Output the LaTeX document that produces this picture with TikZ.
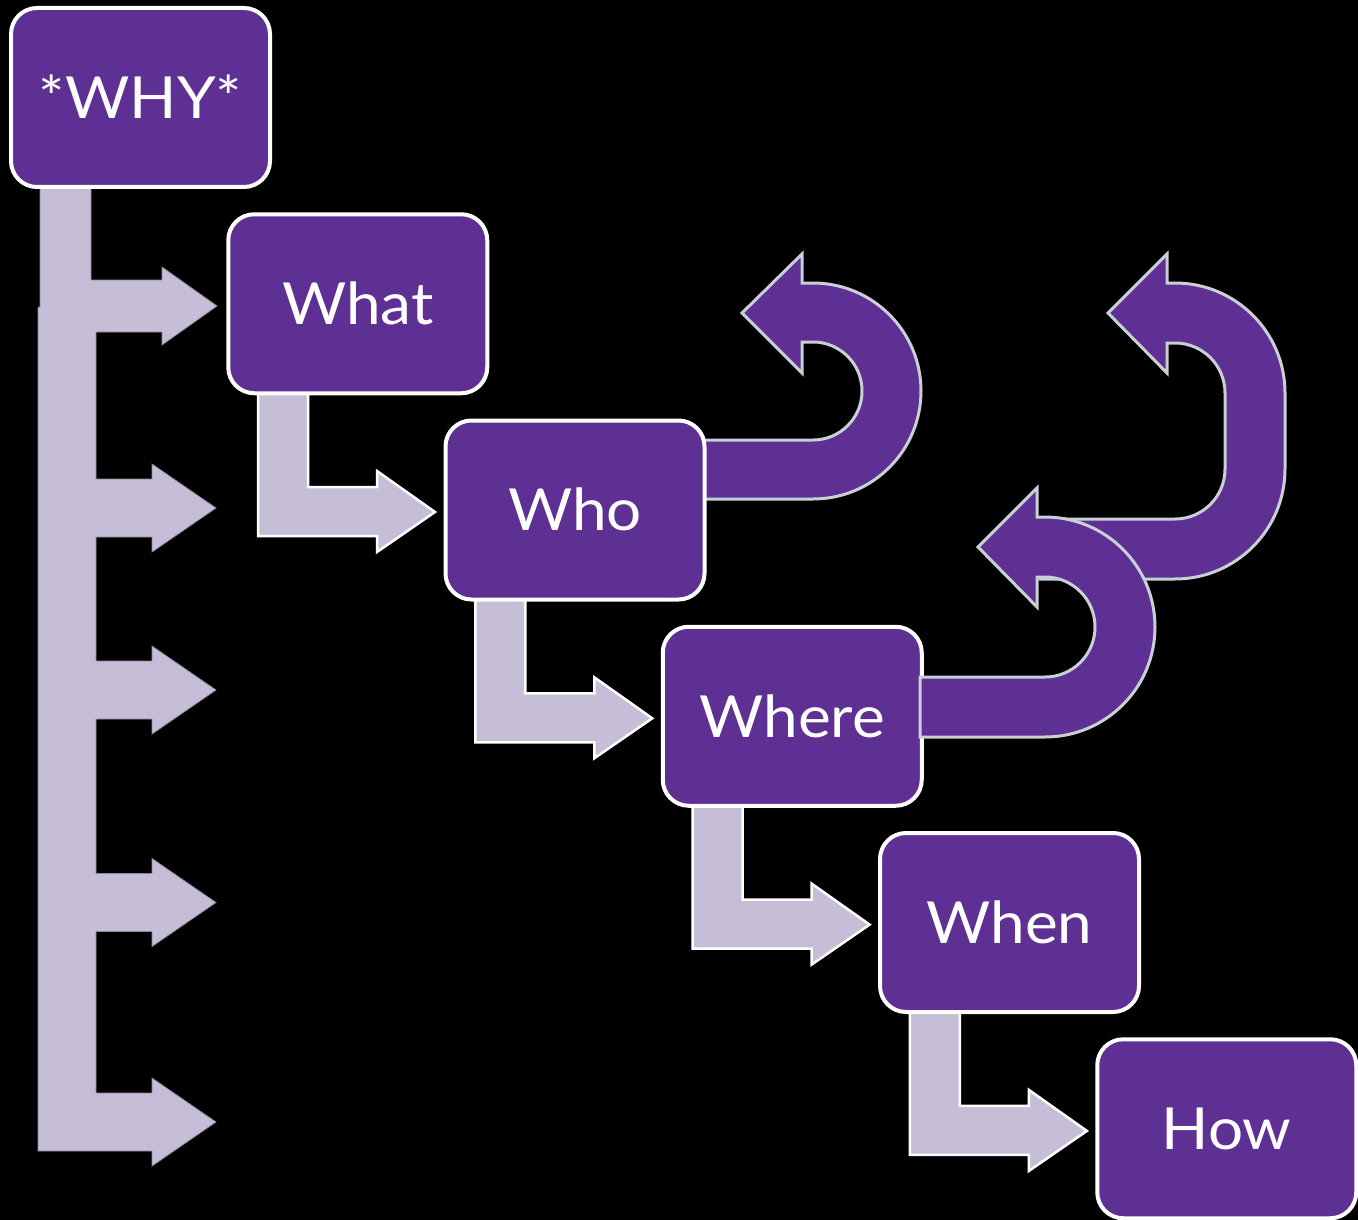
\documentclass[tikz,border=0pt]{standalone}
\usepackage{fontspec}
\setmainfont[FakeStretch=1.07]{Lato}
\definecolor{boxpurple}{RGB}{94,48,148}
\definecolor{lav}{RGB}{197,190,214}
\definecolor{uline}{RGB}{200,208,214}
\definecolor{lavedge}{RGB}{140,133,155}
\begin{document}
\begin{tikzpicture}[x=1pt,y=1pt,yscale=-1,
  box/.style={draw=white,line width=4pt,fill=boxpurple,rounded corners=26pt,
    minimum width=259pt,minimum height=179pt,inner sep=0pt,
    text=white,font=\fontsize{58}{58}\selectfont,text height=41.5pt,text depth=0pt},
  leftarrow/.style={fill=lav,draw=lavedge,line width=0.8pt},
  bentarrow/.style={fill=lav,draw=white,line width=2.5pt},
  uarrow/.style={fill=boxpurple,draw=uline,line width=3pt,line join=miter}]
\path[use as bounding box,fill=black] (0,0) rectangle (1358,1220);
% big multi-branch arrow
\draw[leftarrow] (38,307) -- (96,307)
  -- (96,479) -- (152,479) -- (152,464) -- (216,508) -- (152,552) -- (152,537) -- (96,537)
  -- (96,661) -- (152,661) -- (152,646) -- (216,690) -- (152,734) -- (152,719) -- (96,719)
  -- (96,873.5) -- (152,873.5) -- (152,858.5) -- (216,902.5) -- (152,946.5) -- (152,931.5) -- (96,931.5)
  -- (96,1093) -- (152,1093) -- (152,1078) -- (216,1122) -- (152,1166) -- (152,1151)
  -- (38,1151) -- cycle;
% left arrow from WHY (fill, then its visible outline)
\fill[lav] (40,185) -- (91,185) -- (91,280) -- (162,280) -- (162,267) -- (217,306)
  -- (162,345) -- (162,332) -- (40,332) -- cycle;
\draw[draw=lavedge,line width=0.8pt] (40,307) -- (40,185) (91,185) -- (91,280) -- (162,280)
  -- (162,267) -- (217,306) -- (162,345) -- (162,332) -- (96,332);
% bent arrows between boxes
\foreach \k in {0,...,3}{
  \begin{scope}[shift={(217.3*\k,206.3*\k)}]
  \draw[bentarrow] (258,391) -- (308,391) -- (308,487) -- (377,487) -- (377,471) -- (435,512)
    -- (377,552) -- (377,536) -- (258,536) -- cycle;
  \end{scope}
}
% U arrow from Who (under the box)
\draw[uarrow] (700,440) -- (813,440) arc[start angle=90,end angle=-90,radius=49pt]
  -- (802,342) -- (802,373) -- (742,313) -- (802,254) -- (802,283) -- (813,283)
  arc[start angle=-90,end angle=90,radius=108pt] -- (700,499) -- cycle;
% boxes
\node[box] (why)   at (140.5,97.5)    {*WHY*};
\node[box] (what)  at (357.75,303.75) {What};
\node[box] (who)   at (575,510)       {Who};
\node[box] (where) at (792.25,716.25) {Where};
\node[box] (when)  at (1009.5,922.5)  {When};
\node[box] (how)   at (1226.75,1128.75) {How};
% upper right U arrow
\draw[uarrow] (1040,519) -- (1175,519) arc[start angle=90,end angle=0,radius=50pt]
  -- (1225,393) arc[start angle=0,end angle=-90,radius=50pt]
  -- (1167,343) -- (1167,373) -- (1108,313) -- (1167,254) -- (1167,283) -- (1175,283)
  arc[start angle=-90,end angle=0,radius=110pt] -- (1285,469)
  arc[start angle=0,end angle=90,radius=110pt] -- (1040,579) -- cycle;
% U arrow from Where (over the box)
\draw[uarrow] (920,677) -- (1045,677) arc[start angle=90,end angle=-90,radius=50pt]
  -- (1037,577) -- (1037,607) -- (978,547) -- (1037,488) -- (1037,517) -- (1045,517)
  arc[start angle=-90,end angle=90,radius=110pt] -- (920,737) -- cycle;
\end{tikzpicture}
\end{document}
